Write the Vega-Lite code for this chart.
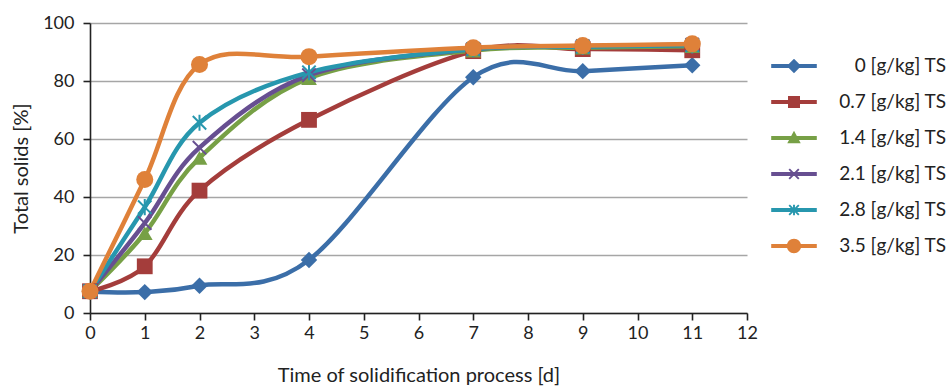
{
  "$schema": "https://vega.github.io/schema/vega-lite/v6.json",
  "width": 657,
  "height": 290,
  "autosize": "none",
  "padding": {"left": 90, "top": 23, "right": 202, "bottom": 74},
  "background": "white",
  "config": {
    "font": "Lato",
    "view": {"stroke": null},
    "axis": {"labelFont": "Lato", "titleFont": "Lato", "labelColor": "#222", "titleColor": "#222", "labelFontSize": 18, "titleFontSize": 20, "titleFontWeight": "normal", "domainColor": "#222", "tickColor": "#222", "domainWidth": 1.6, "tickWidth": 1.6, "tickSize": 7},
    "legend": {"labelFont": "Lato", "labelFontSize": 19, "labelColor": "#222"}
  },
  "data": {"values": [
    {"t": 0, "v": 7.3, "s": "0 [g/kg] TS"},
    {"t": 1, "v": 7.2, "s": "0 [g/kg] TS"},
    {"t": 2, "v": 9.4, "s": "0 [g/kg] TS"},
    {"t": 4, "v": 18.3, "s": "0 [g/kg] TS"},
    {"t": 7, "v": 81.3, "s": "0 [g/kg] TS"},
    {"t": 9, "v": 83.4, "s": "0 [g/kg] TS"},
    {"t": 11, "v": 85.4, "s": "0 [g/kg] TS"},
    {"t": 0, "v": 7.5, "s": "0.7 [g/kg] TS"},
    {"t": 1, "v": 16.1, "s": "0.7 [g/kg] TS"},
    {"t": 2, "v": 42.2, "s": "0.7 [g/kg] TS"},
    {"t": 4, "v": 66.6, "s": "0.7 [g/kg] TS"},
    {"t": 7, "v": 90.3, "s": "0.7 [g/kg] TS"},
    {"t": 9, "v": 91.0, "s": "0.7 [g/kg] TS"},
    {"t": 11, "v": 90.6, "s": "0.7 [g/kg] TS"},
    {"t": 0, "v": 7.5, "s": "1.4 [g/kg] TS"},
    {"t": 1, "v": 27.5, "s": "1.4 [g/kg] TS"},
    {"t": 2, "v": 53.5, "s": "1.4 [g/kg] TS"},
    {"t": 4, "v": 81.0, "s": "1.4 [g/kg] TS"},
    {"t": 7, "v": 90.5, "s": "1.4 [g/kg] TS"},
    {"t": 9, "v": 91.5, "s": "1.4 [g/kg] TS"},
    {"t": 11, "v": 92.0, "s": "1.4 [g/kg] TS"},
    {"t": 0, "v": 7.5, "s": "2.1 [g/kg] TS"},
    {"t": 1, "v": 31.0, "s": "2.1 [g/kg] TS"},
    {"t": 2, "v": 57.0, "s": "2.1 [g/kg] TS"},
    {"t": 4, "v": 82.0, "s": "2.1 [g/kg] TS"},
    {"t": 7, "v": 91.0, "s": "2.1 [g/kg] TS"},
    {"t": 9, "v": 92.0, "s": "2.1 [g/kg] TS"},
    {"t": 11, "v": 92.5, "s": "2.1 [g/kg] TS"},
    {"t": 0, "v": 7.5, "s": "2.8 [g/kg] TS"},
    {"t": 1, "v": 36.5, "s": "2.8 [g/kg] TS"},
    {"t": 2, "v": 65.6, "s": "2.8 [g/kg] TS"},
    {"t": 4, "v": 83.0, "s": "2.8 [g/kg] TS"},
    {"t": 7, "v": 91.0, "s": "2.8 [g/kg] TS"},
    {"t": 9, "v": 91.8, "s": "2.8 [g/kg] TS"},
    {"t": 11, "v": 92.3, "s": "2.8 [g/kg] TS"},
    {"t": 0, "v": 7.5, "s": "3.5 [g/kg] TS"},
    {"t": 1, "v": 46.0, "s": "3.5 [g/kg] TS"},
    {"t": 2, "v": 85.7, "s": "3.5 [g/kg] TS"},
    {"t": 4, "v": 88.4, "s": "3.5 [g/kg] TS"},
    {"t": 7, "v": 91.5, "s": "3.5 [g/kg] TS"},
    {"t": 9, "v": 92.2, "s": "3.5 [g/kg] TS"},
    {"t": 11, "v": 92.8, "s": "3.5 [g/kg] TS"}
  ]},
  "encoding": {
    "x": {"field": "t", "type": "quantitative", "scale": {"domain": [0, 12], "nice": false},
      "axis": {"values": [0,1,2,3,4,5,6,7,8,9,10,11,12], "grid": false, "title": "Time of solidification process [d]", "labelPadding": 4, "titlePadding": 23, "labelFlush": false}},
    "y": {"field": "v", "type": "quantitative", "scale": {"domain": [0, 100], "nice": false},
      "axis": {"values": [0,20,40,60,80,100], "grid": true, "gridColor": "#a6a6a6", "gridWidth": 1.6, "title": "Total solids [%]", "labelPadding": 9, "titlePadding": 11}},
    "color": {"field": "s", "type": "nominal",
      "scale": {"domain": ["0 [g/kg] TS", "0.7 [g/kg] TS", "1.4 [g/kg] TS", "2.1 [g/kg] TS", "2.8 [g/kg] TS", "3.5 [g/kg] TS"],
        "range": ["#3b6ea8", "#a43d3b", "#77a046", "#674f91", "#2797ae", "#df8139"]},
      "legend": {"title": null, "orient": "none", "legendX": 680, "legendY": 19, "symbolSize": 400, "rowPadding": 2, "labelAlign": "right", "labelOffset": 128, "labelLimit": 300, "symbolOpacity": 1,
        "encode": {"symbols": {"update": {
          "shape": {"signal": "['M-0.95,-0.085V0.085H0.95V-0.085Z M0,-0.3L-0.3,0L0,0.3L0.3,0Z', 'M-0.95,-0.085V0.085H0.95V-0.085Z M-0.25,-0.25V0.25H0.25V-0.25Z', 'M-0.95,-0.085V0.085H0.95V-0.085Z M0,-0.3L-0.28,0.22H0.28Z', 'M-0.95,-0.085V0.085H0.95V-0.085Z M-0.228,-0.172L0.172,0.228L0.228,0.172L-0.172,-0.228Z M-0.172,0.228L0.228,-0.172L0.172,-0.228L-0.228,0.172Z', 'M-0.95,-0.085V0.085H0.95V-0.085Z M-0.228,-0.172L0.172,0.228L0.228,0.172L-0.172,-0.228Z M-0.172,0.228L0.228,-0.172L0.172,-0.228L-0.228,0.172Z M-0.04,-0.22V0.22H0.04V-0.22Z', 'M-0.95,-0.085V0.085H0.95V-0.085Z M-0.3,0A0.3,0.3 0 1 0 0.3,0A0.3,0.3 0 1 0 -0.3,0Z'][datum.index]"},
          "fill": {"scale": "color", "field": "value"},
          "stroke": {"value": "transparent"},
          "strokeWidth": {"value": 0},
          "size": {"value": 2304},
          "opacity": {"value": 1}
        }}}}
    }
  },
  "layer": [
    {"mark": {"type": "line", "interpolate": "cardinal", "strokeWidth": 4.5, "strokeCap": "round", "strokeJoin": "round"}},
    {"transform": [{"filter": "datum.s == '0 [g/kg] TS'"}],
     "mark": {"type": "point", "filled": true, "opacity": 1, "shape": "diamond", "size": 270}},
    {"transform": [{"filter": "datum.s == '0.7 [g/kg] TS'"}],
     "mark": {"type": "point", "filled": true, "opacity": 1, "shape": "square", "size": 250}},
    {"transform": [{"filter": "datum.s == '1.4 [g/kg] TS'"}],
     "mark": {"type": "point", "filled": true, "opacity": 1, "shape": "triangle-up", "size": 250}},
    {"transform": [{"filter": "datum.s == '2.1 [g/kg] TS'"}],
     "mark": {"type": "point", "filled": false, "opacity": 1, "shape": "M-1,-1L1,1M-1,1L1,-1", "size": 180, "strokeWidth": 2}},
    {"transform": [{"filter": "datum.s == '2.8 [g/kg] TS'"}],
     "mark": {"type": "point", "filled": false, "opacity": 1, "shape": "M-1,-1L1,1M-1,1L1,-1M0,-1.2L0,1.2", "size": 180, "strokeWidth": 2}},
    {"transform": [{"filter": "datum.s == '3.5 [g/kg] TS'"}],
     "mark": {"type": "point", "filled": true, "opacity": 1, "shape": "circle", "size": 290}}
  ]
}
